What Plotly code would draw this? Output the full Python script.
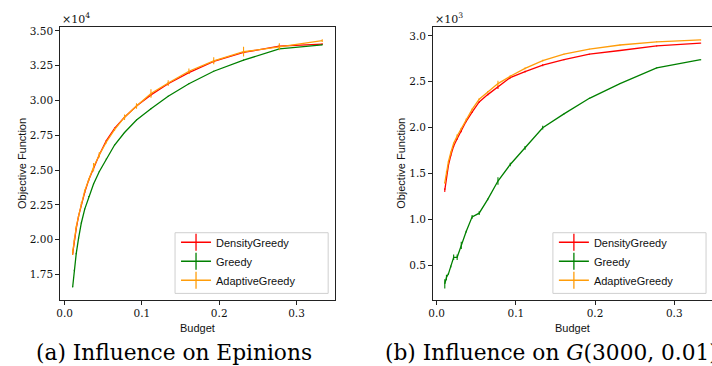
import plotly.graph_objects as go

# ---------------- data ----------------
budget = [0.0104, 0.0125, 0.0150, 0.0180, 0.0216, 0.0260, 0.0312, 0.0374, 0.0449, 0.0538,
          0.0646, 0.0775, 0.0930, 0.1117, 0.1340, 0.1608, 0.1929, 0.2315, 0.2778, 0.3333]

# (a) Epinions, values in units of 1e4
ep_density = [1.90, 1.99, 2.08, 2.17, 2.25, 2.34, 2.43, 2.51, 2.61, 2.71,
              2.80, 2.88, 2.96, 3.04, 3.12, 3.20, 3.28, 3.345, 3.39, 3.405]
ep_density_err = [0.010, 0.005, 0.005, 0.005, 0.005, 0.005, 0.005, 0.010, 0.010, 0.005,
                  0.005, 0.010, 0.010, 0.010, 0.010, 0.010, 0.010, 0.010, 0.010, 0.005]
ep_greedy = [1.66, 1.78, 1.90, 2.01, 2.12, 2.22, 2.31, 2.40, 2.49, 2.58,
             2.68, 2.77, 2.86, 2.94, 3.03, 3.12, 3.21, 3.29, 3.37, 3.40]
ep_greedy_err = [0.004] * 20
ep_adaptive = [1.91, 2.00, 2.09, 2.17, 2.26, 2.35, 2.43, 2.52, 2.61, 2.70,
               2.79, 2.88, 2.96, 3.05, 3.125, 3.21, 3.285, 3.35, 3.385, 3.43]
ep_adaptive_err = [0.020, 0.010, 0.010, 0.010, 0.010, 0.010, 0.010, 0.030, 0.020, 0.010,
                   0.010, 0.020, 0.020, 0.030, 0.020, 0.020, 0.025, 0.035, 0.025, 0.010]

# (b) G(3000, 0.01), values in units of 1e3
g_density = [1.32, 1.47, 1.59, 1.70, 1.80, 1.88, 1.97, 2.07, 2.17, 2.28,
             2.36, 2.44, 2.545, 2.61, 2.68, 2.74, 2.80, 2.84, 2.89, 2.92]
g_density_err = [0.02, 0.01, 0.01, 0.01, 0.01, 0.01, 0.02, 0.01, 0.01, 0.01,
                 0.01, 0.02, 0.01, 0.01, 0.01, 0.005, 0.005, 0.005, 0.005, 0.005]
g_greedy = [0.30, 0.37, 0.41, 0.49, 0.59, 0.59, 0.72, 0.87, 1.03, 1.07,
            1.22, 1.42, 1.60, 1.78, 2.00, 2.15, 2.32, 2.48, 2.65, 2.74]
g_greedy_err = [0.05, 0.03, 0.01, 0.01, 0.03, 0.03, 0.04, 0.01, 0.02, 0.02,
                0.01, 0.04, 0.02, 0.02, 0.02, 0.005, 0.005, 0.005, 0.005, 0.005]
g_adaptive = [1.40, 1.52, 1.63, 1.73, 1.83, 1.91, 1.99, 2.09, 2.20, 2.31,
              2.39, 2.48, 2.56, 2.645, 2.73, 2.80, 2.855, 2.90, 2.935, 2.955]
g_adaptive_err = [0.01, 0.01, 0.01, 0.01, 0.01, 0.02, 0.01, 0.01, 0.01, 0.01,
                  0.01, 0.03, 0.01, 0.01, 0.01, 0.005, 0.005, 0.005, 0.005, 0.005]

series_names = ["DensityGreedy", "Greedy", "AdaptiveGreedy"]
colors = ["#ff0000", "#008000", "#ff9d0a"]

W, H = 712, 366
SERIF = "DejaVu Serif"
SANS = "Liberation Sans"

fig = go.Figure()

panels = [
    ("x", "y", "legend", [ep_density, ep_greedy, ep_adaptive],
     [ep_density_err, ep_greedy_err, ep_adaptive_err]),
    ("x2", "y2", "legend2", [g_density, g_greedy, g_adaptive],
     [g_density_err, g_greedy_err, g_adaptive_err]),
]

for xa, ya, lg, ys, errs in panels:
    for name, c, yv, ev in zip(series_names, colors, ys, errs):
        fig.add_trace(go.Scatter(
            x=budget, y=yv, mode="lines", xaxis=xa, yaxis=ya,
            line=dict(color=c, width=1.3), showlegend=False,
            error_y=dict(type="data", array=ev, width=0, thickness=1.1, color=c),
            hoverinfo="skip"))
    for name, c in zip(series_names, colors):
        fig.add_trace(go.Scatter(
            x=[None], y=[None], mode="lines+markers", xaxis=xa, yaxis=ya,
            name=name, legend=lg,
            line=dict(color=c, width=1.3),
            marker=dict(symbol="line-ns", size=12, color=c,
                        line=dict(width=1.3, color=c))))

def px_x(p):
    return p / W

def px_y(p):
    return 1 - p / H

axis_common = dict(
    showline=True, linecolor="#222222", linewidth=1, ticks="outside", ticklen=3.5,
    tickwidth=0.9, tickcolor="#222222", showgrid=False, zeroline=False,
    tickfont=dict(family=SERIF, size=10.5, color="#111111"))

ydom = [px_y(300), px_y(25)]

legend_common = dict(
    xanchor="left", yanchor="top", borderwidth=0, bgcolor="rgba(0,0,0,0)",
    font=dict(family=SANS, size=11, color="#111111"),
    itemwidth=30, tracegroupgap=0)

fig.update_layout(
    width=W, height=H, margin=dict(l=0, r=0, t=0, b=0),
    paper_bgcolor="white", plot_bgcolor="white", showlegend=True,
    xaxis=dict(domain=[px_x(56), px_x(333)], range=[-0.0064, 0.350],
               tick0=0, dtick=0.1, tickformat=".1f", mirror=True, anchor="y", **axis_common),
    yaxis=dict(domain=ydom, range=[1.5643, 3.5286], tick0=0, dtick=0.25,
               tickformat=".2f", mirror=True, anchor="x", **axis_common),
    xaxis2=dict(domain=[px_x(431), 1.0], range=[-0.0050, 0.3476],
                tick0=0, dtick=0.1, tickformat=".1f", mirror=True, anchor="y2", **axis_common),
    yaxis2=dict(domain=ydom, range=[0.1212, 3.0974], tick0=0, dtick=0.5,
                tickformat=".1f", mirror=False, anchor="x2", **axis_common),
    legend=dict(x=px_x(173), y=px_y(227), **legend_common),
    legend2=dict(x=px_x(553), y=px_y(227), **legend_common),
)

# legend frames (matplotlib-style boxes)
shapes = []
for x0, x1 in [(172, 326), (552, 706)]:
    shapes.append(dict(type="rect", xref="paper", yref="paper", layer="above",
                       x0=px_x(x0), x1=px_x(x1), y0=px_y(293), y1=px_y(232),
                       line=dict(color="#cfcfcf", width=1),
                       fillcolor="rgba(255,255,255,0.85)"))
fig.update_layout(shapes=shapes)

annotations = [
    # axis titles
    dict(text="Objective Function", x=px_x(18), y=px_y(162), textangle=-90,
         font=dict(family=SANS, size=11, color="#111111")),
    dict(text="Objective Function", x=px_x(399), y=px_y(162), textangle=-90,
         font=dict(family=SANS, size=11, color="#111111")),
    dict(text="Budget", x=px_x(195), y=px_y(328),
         font=dict(family=SANS, size=11, color="#111111")),
    dict(text="Budget", x=px_x(572), y=px_y(328),
         font=dict(family=SANS, size=11, color="#111111")),
    # offset labels
    dict(text="×10<sup>4</sup>", x=px_x(56), y=px_y(17), xanchor="left",
         font=dict(family=SERIF, size=11, color="#111111")),
    dict(text="×10<sup>3</sup>", x=px_x(431), y=px_y(17), xanchor="left",
         font=dict(family=SERIF, size=11, color="#111111")),
    # captions
    dict(text="(a) Influence on Epinions", x=px_x(171), y=px_y(352),
         font=dict(family=SERIF, size=21.7, color="#000000")),
    dict(text="(b) Influence on <i>G</i>(3000, 0.01)", x=px_x(381), y=px_y(352),
         xanchor="left", font=dict(family=SERIF, size=21.7, color="#000000")),
]
for a in annotations:
    a.update(xref="paper", yref="paper", showarrow=False)
    a.setdefault("xanchor", "center")
    a.setdefault("yanchor", "middle")
fig.update_layout(annotations=annotations)

fig.write_html(
    "out.html",
    config={"displayModeBar": False},
    post_script="document.body.style.margin='0';document.body.style.padding='0';"
                "document.body.style.overflow='hidden';")
